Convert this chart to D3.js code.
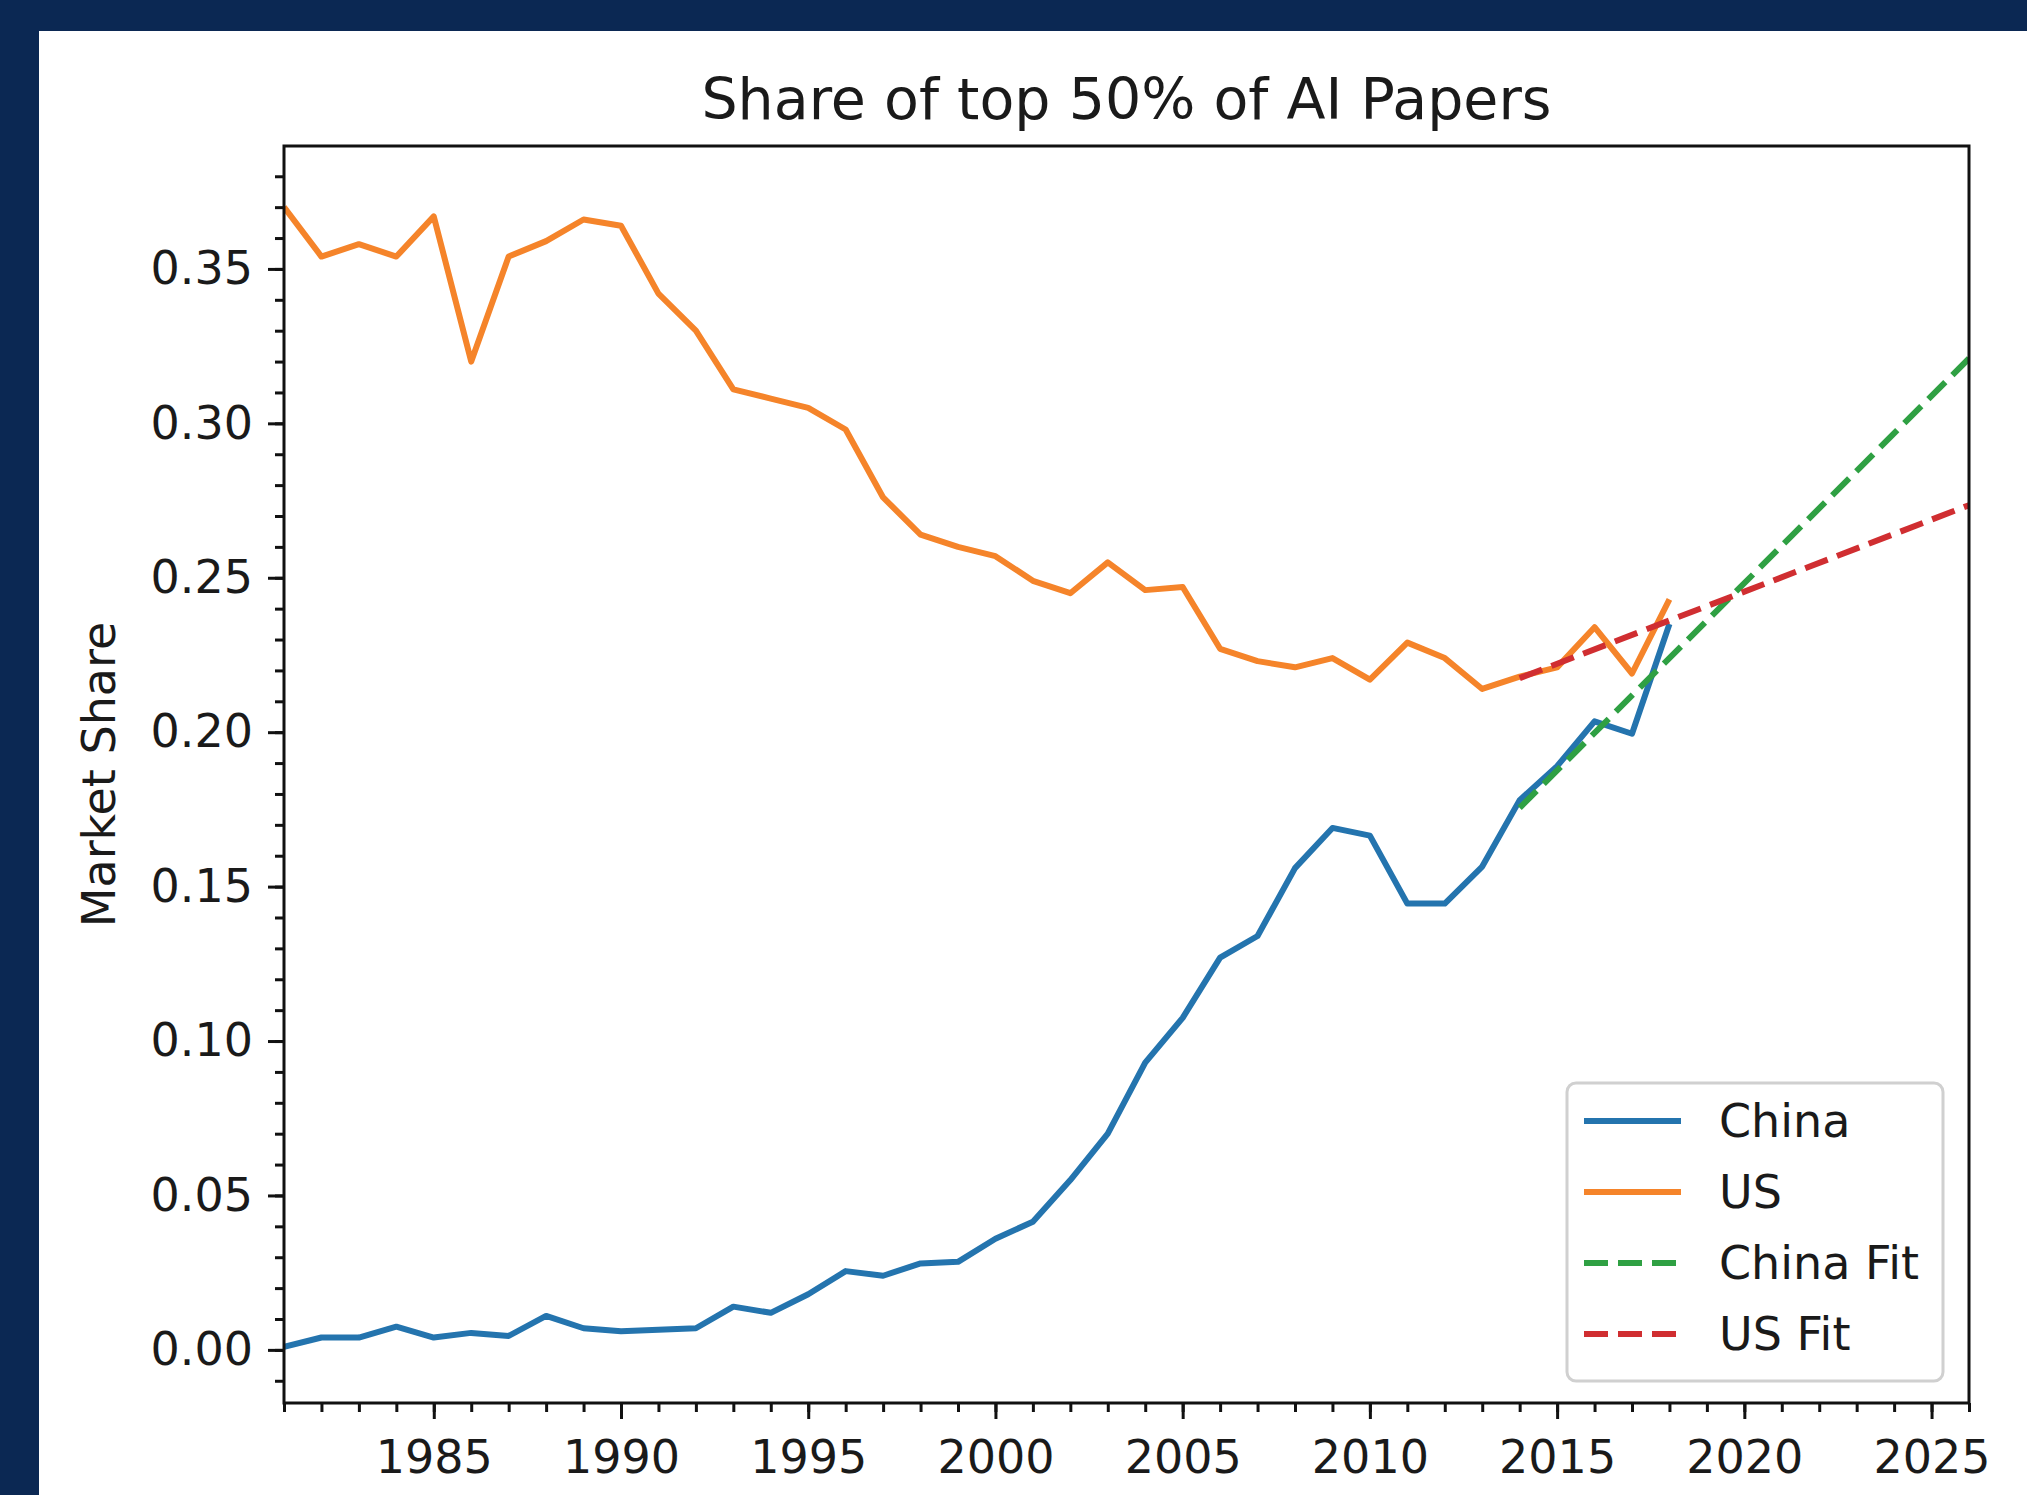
<!DOCTYPE html>
<html>
<head>
<meta charset="utf-8">
<script src="https://cdn.jsdelivr.net/npm/d3@7"></script>
<style>
  html, body { margin: 0; padding: 0; background: #0b2853; }
  svg { display: block; }
  text { font-family: "DejaVu Sans", sans-serif; fill: #1a1a1a; }
</style>
</head>
<body>
<div id="chart"></div>
<script>
// values
const years = d3.range(1981, 2019);
const chinaShare = [0.001, 0.004, 0.004, 0.0075, 0.004, 0.0055, 0.0045, 0.011, 0.007, 0.006,
    0.0065, 0.007, 0.014, 0.012, 0.018, 0.0255, 0.024, 0.028, 0.0285, 0.036,
    0.0415, 0.055, 0.070, 0.093, 0.1075, 0.127, 0.134, 0.156, 0.169, 0.1665,
    0.1445, 0.1445, 0.1565, 0.178, 0.189, 0.2035, 0.1995, 0.235];
const usShare = [0.370, 0.354, 0.358, 0.354, 0.367, 0.320, 0.354, 0.359, 0.366, 0.364,
    0.342, 0.330, 0.311, 0.308, 0.305, 0.298, 0.276, 0.264, 0.260, 0.257,
    0.249, 0.245, 0.255, 0.246, 0.247, 0.227, 0.223, 0.221, 0.224, 0.217,
    0.229, 0.224, 0.214, 0.218, 0.221, 0.234, 0.219, 0.243];
const fitYears = [2014, 2026];
const chinaFit = [0.1755, 0.321];
const usFit = [0.2175, 0.2735];

const xTicks = [1985, 1990, 1995, 2000, 2005, 2010, 2015, 2020, 2025];
const yTicks = [0, 0.05, 0.10, 0.15, 0.20, 0.25, 0.30, 0.35];
const seriesNames = ["China", "US", "China Fit", "US Fit"];
const seriesColors = ["#2474ae", "#f5842a", "#2fa043", "#d02e31"];

const W = 2027, H = 1495;
const margin = { left: 284, right: W - 1969, top: 146, bottom: H - 1403 };
const fs = 46; // tick / legend font size

const svg = d3.select("#chart").append("svg")
    .attr("width", W)
    .attr("height", H);

svg.append("rect").attr("width", W).attr("height", H).attr("fill", "#0b2853");
svg.append("rect").attr("x", 39).attr("y", 31).attr("width", W - 39).attr("height", H - 31).attr("fill", "#ffffff");

const x = d3.scaleLinear().domain([1981, 2026]).range([margin.left, W - margin.right]);
const y = d3.scaleLinear().domain([-0.0172, 0.3898]).range([H - margin.bottom, margin.top]);

// axes (major + minor ticks)
const xAxis = svg.append("g").attr("transform", `translate(0,${H - margin.bottom})`);
xAxis.call(d3.axisBottom(x).tickValues(d3.range(1981, 2027)).tickSize(9).tickFormat(""));
xAxis.call(g => g.append("g").call(d3.axisBottom(x).tickValues(xTicks).tickSize(16).tickPadding(21)
    .tickFormat(d3.format("d"))));

const yAxis = svg.append("g").attr("transform", `translate(${margin.left},0)`);
yAxis.call(d3.axisLeft(y).tickValues(d3.range(-1, 39).map(d => d / 100)).tickSize(9).tickFormat(""));
yAxis.call(g => g.append("g").call(d3.axisLeft(y).tickValues(yTicks).tickSize(16).tickPadding(15)
    .tickFormat(d3.format(".2f"))));

svg.selectAll(".domain").remove();
svg.selectAll(".tick line").attr("stroke", "#111").attr("stroke-width", 3);
svg.selectAll(".tick text").style("font-size", fs + "px").attr("fill", "#1a1a1a");

// lines
const line = d3.line().x(d => x(d[0])).y(d => y(d[1]));
svg.append("clipPath").attr("id", "plot-clip").append("rect")
    .attr("x", margin.left).attr("y", margin.top)
    .attr("width", W - margin.left - margin.right).attr("height", H - margin.top - margin.bottom);

const plot = svg.append("g").attr("clip-path", "url(#plot-clip)");
const lineData = [
    years.map((yr, i) => [yr, chinaShare[i]]),
    years.map((yr, i) => [yr, usShare[i]]),
    fitYears.map((yr, i) => [yr, chinaFit[i]]),
    fitYears.map((yr, i) => [yr, usFit[i]])
];

lineData.forEach((data, i) => {
    plot.append("path")
        .datum(data)
        .attr("d", line)
        .attr("fill", "none")
        .attr("stroke", seriesColors[i])
        .attr("stroke-width", 6)
        .attr("stroke-linejoin", "round")
        .attr("stroke-dasharray", i >= 2 ? "24,10" : null);
});

// frame
svg.append("rect")
    .attr("x", margin.left).attr("y", margin.top)
    .attr("width", W - margin.left - margin.right).attr("height", H - margin.top - margin.bottom)
    .attr("fill", "none").attr("stroke", "#111").attr("stroke-width", 3);

// title and y label
svg.append("text")
    .attr("x", (margin.left + W - margin.right) / 2)
    .attr("y", 119)
    .attr("text-anchor", "middle")
    .style("font-size", "57px")
    .text("Share of top 50% of AI Papers");

svg.append("text")
    .attr("transform", `translate(115,${(margin.top + H - margin.bottom) / 2}) rotate(-90)`)
    .attr("text-anchor", "middle")
    .style("font-size", fs + "px")
    .text("Market Share");

// legend
const legend = svg.append("g").attr("transform", "translate(1567,1083)");
legend.append("rect")
    .attr("width", 376).attr("height", 298)
    .attr("rx", 9)
    .attr("fill", "#ffffff").attr("fill-opacity", 0.85)
    .attr("stroke", "#d0d0d0").attr("stroke-width", 3);

seriesNames.forEach((name, i) => {
    const row = legend.append("g").attr("transform", `translate(0,${38 + i * 71})`);
    row.append("line")
        .attr("x1", 17).attr("x2", 114)
        .attr("stroke", seriesColors[i])
        .attr("stroke-width", 6)
        .attr("stroke-dasharray", i >= 2 ? "24,10" : null);
    row.append("text")
        .attr("x", 152).attr("y", 0).attr("dy", "0.35em")
        .style("font-size", fs + "px")
        .text(name);
});
</script>
</body>
</html>
